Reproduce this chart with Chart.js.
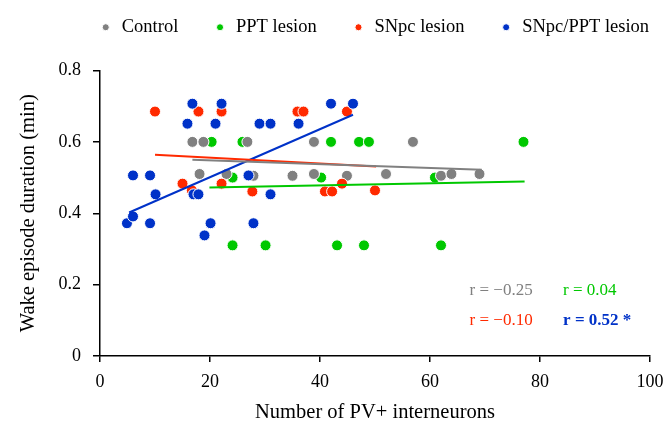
<!DOCTYPE html>
<html lang="en">
<head>
  <meta charset="UTF-8">
  <title>Wake episode duration vs PV+ interneurons</title>
  <script src="https://cdn.jsdelivr.net/npm/chart.js"></script>
  <style>
    body { margin: 0; background: #fff; }
  </style>
</head>
<body>
  <canvas id="grafico" width="664" height="423"></canvas>

  <script>
    // Control
    const ctrlX = [16.8, 18.8, 26.8, 38.9, 56.9, 18.1, 23.0, 27.9, 35.0, 38.9, 44.9, 52.0, 62.0, 63.9, 69.0];
    const ctrlY = [0.60, 0.60, 0.60, 0.60, 0.60, 0.51, 0.51, 0.505, 0.505, 0.51, 0.505, 0.51, 0.505, 0.51, 0.51];
    // PPT lesion
    const pptX = [20.3, 25.9, 42.0, 47.1, 48.9, 77.0, 24.1, 40.2, 60.9, 24.1, 30.1, 43.1, 48.0, 62.0];
    const pptY = [0.60, 0.60, 0.60, 0.60, 0.60, 0.60, 0.50, 0.50, 0.50, 0.31, 0.31, 0.31, 0.31, 0.31];
    // SNpc lesion
    const snpcX = [10.0, 17.9, 22.1, 35.9, 37.0, 44.9, 15.0, 16.7, 22.1, 27.7, 40.9, 42.2, 44.0, 50.0];
    const snpcY = [0.685, 0.685, 0.685, 0.685, 0.685, 0.685, 0.483, 0.464, 0.483, 0.461, 0.461, 0.461, 0.483, 0.464];
    // SNpc/PPT lesion
    const bothX = [16.8, 22.1, 42.0, 46.0, 15.9, 21.0, 29.0, 31.0, 36.1, 6.0, 9.1, 27.0, 10.1, 17.0, 17.9, 31.0, 4.9, 6.0, 9.1, 20.1, 27.9, 19.0];
    const bothY = [0.707, 0.707, 0.707, 0.707, 0.651, 0.651, 0.651, 0.651, 0.651, 0.506, 0.506, 0.506, 0.453, 0.453, 0.453, 0.453, 0.372, 0.391, 0.372, 0.372, 0.372, 0.338];

    // regression lines (end points)
    const ctrlFitX = [16.8, 69.4], ctrlFitY = [0.55, 0.522];
    const pptFitX = [19.9, 77.2], pptFitY = [0.472, 0.489];
    const snpcFitX = [10.0, 50.2], snpcFitY = [0.564, 0.531];
    const bothFitX = [5.3, 46.0], bothFitY = [0.402, 0.676];

    const groupNames = ['Control', 'PPT lesion', 'SNpc lesion', 'SNpc/PPT lesion'];
    const rLabels = ['r = \u22120.25', 'r = 0.04', 'r = \u22120.10', 'r = 0.52 *'];
    const xTicks = [0, 20, 40, 60, 80, 100];
    const yTicks = [0, 0.2, 0.4, 0.6, 0.8];

    const GRAY = '#808080', GREEN = '#00c800', RED = '#ff2a00', BLUE = '#0032c8';
    const SERIF = '"Liberation Serif", "Times New Roman", serif';

    const pts = (xs, ys) => xs.map((v, i) => ({ x: v, y: ys[i] }));

    function pointSet(label, xs, ys, color, order) {
      return {
        label, data: pts(xs, ys), order,
        backgroundColor: color, borderColor: '#fff', borderWidth: 1,
        pointRadius: 5.5, pointHoverRadius: 5.5
      };
    }
    function fitSet(xs, ys, color) {
      return {
        label: 'fit', data: pts(xs, ys), order: 0, showLine: true,
        borderColor: color, borderWidth: 2, pointRadius: 0, fill: false
      };
    }

    // r values, placed in the lower right corner
    const rText = {
      id: 'rText',
      afterDatasetsDraw(chart) {
        const { ctx, scales: { x, y } } = chart;
        const spots = [[67.2, 0.184], [84.2, 0.184], [67.2, 0.10], [84.2, 0.10]];
        const cols = [GRAY, GREEN, RED, BLUE];
        ctx.save();
        ctx.textBaseline = 'middle';
        rLabels.forEach((t, i) => {
          ctx.font = (i === 3 ? 'bold ' : '') + '17px ' + SERIF;
          ctx.fillStyle = cols[i];
          ctx.fillText(t, x.getPixelForValue(spots[i][0]), y.getPixelForValue(spots[i][1]));
        });
        ctx.restore();
      }
    };

    // move the legend row to where the figure has it
    const legendShift = {
      id: 'legendShift',
      afterLayout(chart) {
        const lg = chart.legend;
        lg.left = 64;
        lg.right = 760;
        lg.top = -17;
      }
    };

    const ctx = document.getElementById('grafico').getContext('2d');
    const chart = new Chart(ctx, {
      type: 'scatter',
      data: {
        datasets: [
          pointSet(groupNames[0], ctrlX, ctrlY, GRAY, 3),
          pointSet(groupNames[1], pptX, pptY, GREEN, 4),
          pointSet(groupNames[2], snpcX, snpcY, RED, 2),
          pointSet(groupNames[3], bothX, bothY, BLUE, 1),
          fitSet(ctrlFitX, ctrlFitY, GRAY),
          fitSet(pptFitX, pptFitY, GREEN),
          fitSet(snpcFitX, snpcFitY, RED),
          fitSet(bothFitX, bothFitY, BLUE)
        ]
      },
      options: {
        responsive: false,
        animation: false,
        layout: { padding: { left: 0, right: 14, top: 7, bottom: 0 } },
        plugins: {
          tooltip: { enabled: false },
          legend: {
            position: 'top',
            align: 'start',
            labels: {
              usePointStyle: true,
              pointStyle: 'circle',
              boxWidth: 13.5,
              boxHeight: 5,
              padding: 35,
              color: '#000',
              font: { family: SERIF, size: 18.5 },
              filter: item => item.datasetIndex < 4,
              sort: (a, b) => a.datasetIndex - b.datasetIndex
            }
          }
        },
        scales: {
          x: {
            type: 'linear', min: 0, max: 100,
            afterFit: s => { s.height = 67; s.paddingLeft = 0; s.paddingRight = 0; },
            afterBuildTicks: s => { s.ticks = xTicks.map(v => ({ value: v })); },
            border: { display: true, color: '#000', width: 1.5 },
            grid: { drawOnChartArea: false, drawTicks: true, tickLength: 6, color: '#000', lineWidth: 1.5 },
            ticks: { color: '#000', padding: 9, font: { family: SERIF, size: 18 } },
            title: {
              display: true, text: 'Number of PV+ interneurons', color: '#000',
              font: { family: SERIF, size: 20.5 }, padding: { top: 0, bottom: -2 }
            }
          },
          y: {
            type: 'linear', min: 0, max: 0.8,
            afterFit: s => { s.width = 100; },
            afterBuildTicks: s => { s.ticks = yTicks.map(v => ({ value: v })); },
            border: { display: true, color: '#000', width: 1.5 },
            grid: { drawOnChartArea: false, drawTicks: true, tickLength: 7, color: '#000', lineWidth: 1.5 },
            ticks: { color: '#000', padding: 12, font: { family: SERIF, size: 18 } },
            title: {
              display: true, text: 'Wake episode duration (min)', color: '#000',
              font: { family: SERIF, size: 20.5 }, padding: { top: 16, bottom: 0 }
            }
          }
        }
      },
      plugins: [rText, legendShift]
    });
  </script>
</body>
</html>
